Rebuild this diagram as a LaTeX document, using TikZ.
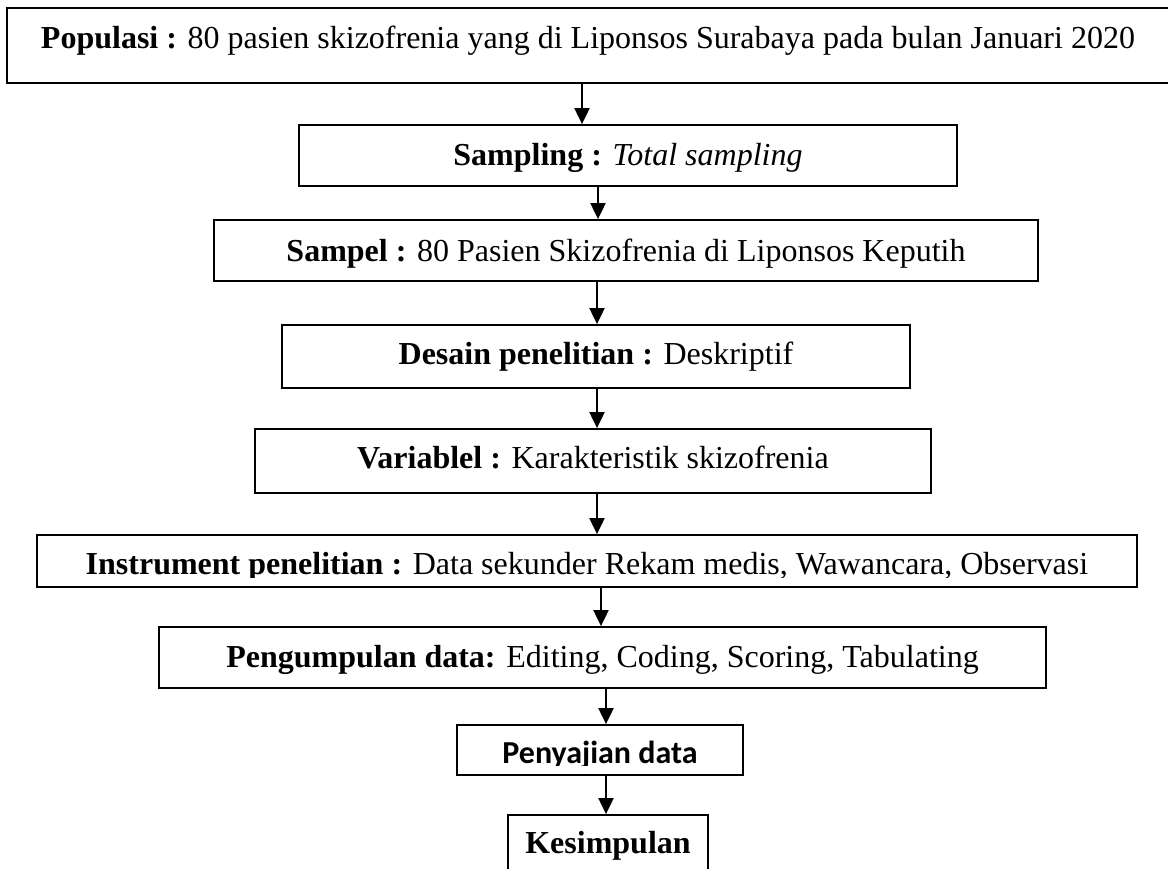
\documentclass[tikz,border=0pt]{standalone}
\usepackage{fontspec}
\setmainfont{Liberation Serif}
\newfontfamily\carlito{Carlito}
\usetikzlibrary{arrows.meta}
\begin{document}
\begin{tikzpicture}[x=0.5pt,y=-0.5pt,
  box/.style={draw=black, line width=0.9pt, rectangle, inner sep=0pt, fill=white},
  txt/.style={anchor=base, inner sep=0pt, font=\fontsize{16}{19}\selectfont},
  arr/.style={draw=black, line width=1pt, -{Triangle[width=7.5pt,length=8pt]}}]
\useasboundingbox[fill=white] (0,0) rectangle (1168,868);

% boxes
\node[box, minimum width=581pt, minimum height=37.5pt] (pop) at (588,45.5) {};
\node[box, minimum width=329pt, minimum height=30.5pt] (samp) at (628,155.5) {};
\node[box, minimum width=412pt, minimum height=30.5pt] (sampel) at (626,250.5) {};
\node[box, minimum width=314pt, minimum height=31.5pt] (desain) at (596,356.5) {};
\node[box, minimum width=338pt, minimum height=32pt] (var) at (593,461) {};
\node[box, minimum width=550pt, minimum height=26pt] (instr) at (587,561) {};
\node[box, minimum width=443.5pt, minimum height=30.5pt] (peng) at (602.5,657.5) {};
\node[box, minimum width=143pt, minimum height=25pt] (peny) at (600,750) {};
\node[box, minimum width=100pt, minimum height=30pt] (kes) at (608,845) {};

% texts
\node[txt] (popT) at (588,48) {\textbf{Populasi :} 80 pasien skizofrenia yang di Liponsos Surabaya pada bulan Januari 2020};
\node[txt] (sampT) at (628,165) {\textbf{Sampling :} \textit{Total sampling}};
\node[txt] (sampelT) at (626,261) {\textbf{Sampel :} 80 Pasien Skizofrenia di Liponsos Keputih};
\node[txt] (desainT) at (596,364) {\textbf{Desain penelitian :} Deskriptif};
\node[txt] (varT) at (593,468) {\textbf{Variablel :} Karakteristik skizofrenia};
\begin{scope}
  \clip (37,535) rectangle (1137,577);
  \node[txt] (instrT) at (587,574) {\textbf{Instrument penelitian :} Data sekunder Rekam medis, Wawancara, Observasi};
\end{scope}
\node[txt] (pengT) at (602.5,667) {\textbf{Pengumpulan data:} Editing, Coding, Scoring, Tabulating};
\begin{scope}
  \clip (457,725) rectangle (743,765);
  \node[txt, font=\fontsize{16}{19}\selectfont\carlito\bfseries] (penyT) at (600,763) {Penyajian data};
\end{scope}
\node[txt] (kesT) at (608,853) {\textbf{Kesimpulan}};

% arrow x positions
\coordinate (a1) at (582,0);
\coordinate (a2) at (598,0);
\coordinate (a3) at (597,0);
\coordinate (a6) at (601,0);
\coordinate (a7) at (606,0);

\draw[arr] (pop.south -| a1) -- (samp.north -| a1);
\draw[arr] (samp.south -| a2) -- (sampel.north -| a2);
\draw[arr] (sampel.south -| a3) -- (desain.north -| a3);
\draw[arr] (desain.south -| a3) -- (var.north -| a3);
\draw[arr] (var.south -| a3) -- (instr.north -| a3);
\draw[arr] (instr.south -| a6) -- (peng.north -| a6);
\draw[arr] (peng.south -| a7) -- (peny.north -| a7);
\draw[arr] (peny.south -| a7) -- (kes.north -| a7);
\end{tikzpicture}
\end{document}
